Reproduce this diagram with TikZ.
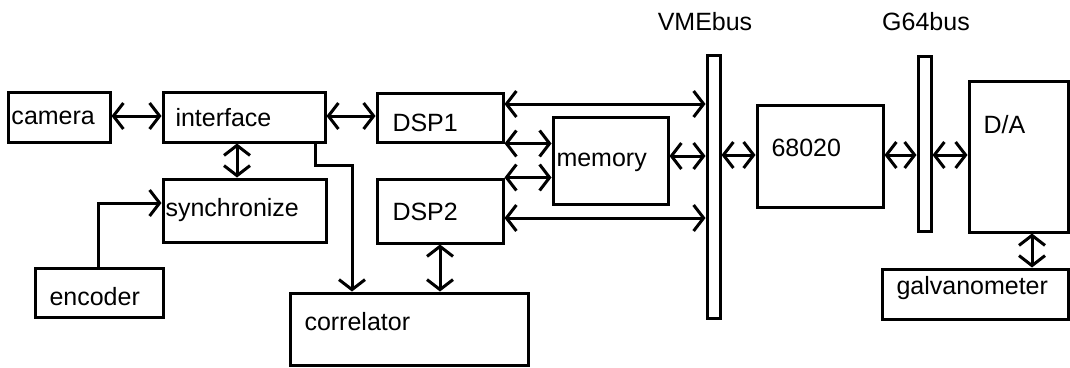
\documentclass[tikz,border=0pt]{standalone}
\usepackage{fontspec}
\setmainfont{Liberation Sans}
\usetikzlibrary{arrows.meta}
\begin{document}
\begin{tikzpicture}[x=1pt,y=-1pt,
  line width=3pt,
  box/.style={draw, rectangle, inner sep=0pt, line width=3pt},
  lbl/.style={anchor=west, inner sep=0pt, font=\fontsize{25}{30}\selectfont},
  ttl/.style={anchor=center, inner sep=0pt, font=\fontsize{25}{30}\selectfont},
  both/.style={{Straight Barb[length=10pt,width=26pt,line join=miter]}-{Straight Barb[length=10pt,width=26pt,line join=miter]}},
  one/.style={-{Straight Barb[length=10pt,width=26pt,line join=miter]}}]
\useasboundingbox (0,0) rectangle (1070,367);

% functional blocks
\node[box, minimum width=102pt, minimum height=50pt] (camera) at (59,117) {};
\node[box, minimum width=162pt, minimum height=50pt] (interface) at (244,117) {};
\node[box, minimum width=163pt, minimum height=63pt] (sync) at (244.5,210.5) {};
\node[box, minimum width=128pt, minimum height=49pt] (encoder) at (99,292.5) {};
\node[box, minimum width=126pt, minimum height=49pt] (dsp1) at (440,117.5) {};
\node[box, minimum width=126pt, minimum height=64pt] (dsp2) at (440,211) {};
\node[box, minimum width=115pt, minimum height=87pt] (memory) at (610.5,160.5) {};
\node[box, minimum width=238pt, minimum height=72pt] (corr) at (409,329) {};
\node[box, minimum width=126pt, minimum height=102pt] (cpu) at (820,156) {};
\node[box, minimum width=99pt, minimum height=151pt] (da) at (1018.5,156.5) {};
\node[box, minimum width=186pt, minimum height=50pt] (galvo) at (975,294) {};

% bus bars
\node[box, minimum width=13pt, minimum height=263pt] (vme) at (713.5,186.5) {};
\node[box, minimum width=13pt, minimum height=175pt] (g64) at (924.5,143.5) {};

% texts
\node[lbl] (t-camera) at (10,118) {camera};
\node[lbl] (t-interface) at (174,118) {interface};
\node[lbl] (t-sync) at (164,210) {synchronize};
\node[lbl] (t-encoder) at (48,297) {encoder};
\node[lbl] (t-dsp1) at (391,123) {DSP1};
\node[lbl] (t-dsp2) at (391,212) {DSP2};
\node[lbl] (t-memory) at (555,162) {memory};
\node[lbl] (t-corr) at (303,322) {correlator};
\node[lbl] (t-cpu) at (770,148) {68020};
\node[lbl] (t-da) at (982,125) {D/A};
\node[lbl] (t-galvo) at (895,288) {galvanometer};
\node[ttl] (t-vme) at (705,22) {VMEbus};
\node[ttl] (t-g64) at (926,22) {G64bus};

% connectors
\draw[both] (camera.east |- 0,116) -- (interface.west |- 0,116);
\draw[both] (interface.east |- 0,116) -- (dsp1.west |- 0,116);
\draw[both] (interface.south -| 237,0) -- (sync.north -| 237,0);
\draw[one] (encoder.north -| 98,0) |- (sync.west |- 0,203);
\draw[one] (interface.south -| 315,0) |- (352,165) -- (corr.north -| 352,0);
\draw[both] (dsp2.south -| 440,0) -- (corr.north -| 440,0);

\draw[both] (dsp1.east |- 0,104) -- (vme.west |- 0,104);
\draw[both] (dsp1.south east) -- (memory.west |- dsp1.south east);
\draw[both] (dsp2.north east) -- (memory.west |- dsp2.north east);
\draw[both] (dsp2.east |- 0,218) -- (vme.west |- 0,218);
\draw[both] (memory.east |- 0,156) -- (vme.west |- 0,156);

\draw[both] (vme.east |- 0,155) -- (cpu.west |- 0,155);
\draw[both] (cpu.east |- 0,155) -- (g64.west |- 0,155);
\draw[both] (g64.east |- 0,155) -- (da.west |- 0,155);
\draw[both] (da.south -| 1032,0) -- (galvo.north -| 1032,0);
\end{tikzpicture}
\end{document}
